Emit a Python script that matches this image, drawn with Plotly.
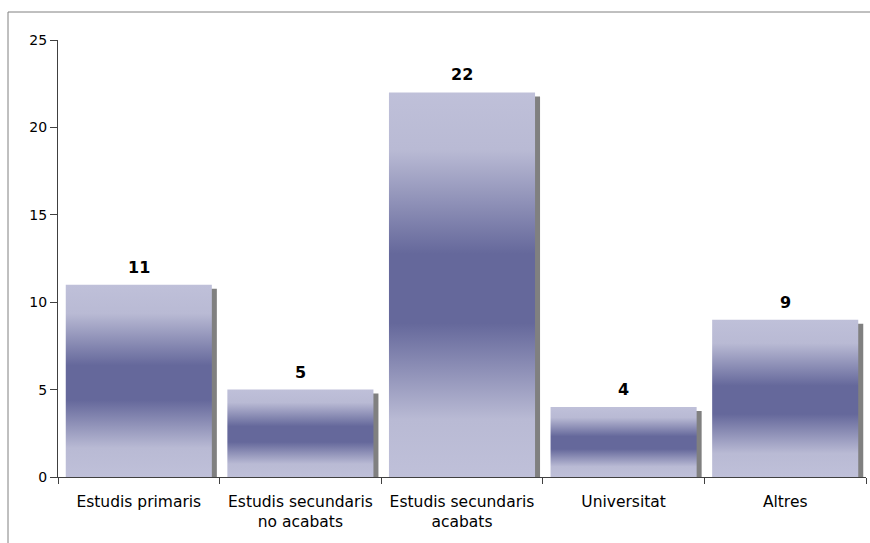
import plotly.graph_objects as go

# Nivell d'estudis
categories = ["Estudis primaris", "Estudis secundaris<br>no acabats",
              "Estudis secundaris<br>acabats", "Universitat", "Altres"]
values = [11, 5, 22, 4, 9]
y_ticks = [0, 5, 10, 15, 20, 25]

BAR_HALF = 0.452          # half bar width, in category units
SHADOW_DX = 0.031         # drop-shadow offset to the right
SHADOW_DY = 0.23          # drop-shadow offset downward (value units)

LIGHT = "#bfc0d9"
DARK = "#65689b"
gradient = [[0.0, LIGHT], [0.15, "#b9bad4"], [0.40, DARK], [0.58, DARK],
            [0.85, "#b9bad4"], [1.0, LIGHT]]

FONT = "DejaVu Sans, Verdana"

fig = go.Figure()

for i, v in enumerate(values):
    # shadow behind the bar
    x0, x1 = i - BAR_HALF + SHADOW_DX, i + BAR_HALF + SHADOW_DX
    fig.add_trace(go.Scatter(
        x=[x0, x1, x1, x0, x0], y=[0, 0, v - SHADOW_DY, v - SHADOW_DY, 0],
        mode="lines", line=dict(width=0), fill="toself",
        fillcolor="#808080", hoverinfo="skip", showlegend=False))
    # gradient bar
    x0, x1 = i - BAR_HALF, i + BAR_HALF
    fig.add_trace(go.Scatter(
        x=[x0, x1, x1, x0, x0], y=[0, 0, v, v, 0],
        mode="lines", line=dict(width=0), fill="toself",
        fillgradient=dict(type="vertical", colorscale=gradient),
        hoverinfo="skip", showlegend=False))

for i, v in enumerate(values):
    fig.add_annotation(x=i, y=v, text=f"<b>{v}</b>", showarrow=False,
                       yanchor="bottom", yshift=6,
                       font=dict(family=FONT, size=16, color="#000000"))

axis_color = "#404040"
fig.update_layout(
    width=870, height=543,
    margin=dict(l=58, r=4, t=40, b=66),
    paper_bgcolor="white", plot_bgcolor="white",
    font=dict(family=FONT, size=15.5, color="#000000"),
    xaxis=dict(
        range=[-0.5, 4.5], showgrid=False, zeroline=False,
        showline=True, linecolor=axis_color, linewidth=1,
        tickmode="array", tickvals=list(range(len(categories))),
        ticktext=categories, ticks="", ticklabelstandoff=10,
        tickfont=dict(size=15.5),
        minor=dict(tickmode="array",
                   tickvals=[k - 0.5 for k in range(len(categories) + 1)],
                   ticks="outside", ticklen=6, tickcolor=axis_color, showgrid=False),
    ),
    yaxis=dict(
        range=[0, 25], showgrid=False, zeroline=False,
        showline=True, linecolor=axis_color, linewidth=1,
        tickmode="array", tickvals=y_ticks,
        ticks="outside", ticklen=7, tickcolor=axis_color,
        tickfont=dict(size=14),
    ),
)

# outer chart frame
fig.add_shape(type="rect", xref="paper", yref="paper",
              x0=(8 - 58) / 808, x1=(880 - 58) / 808,
              y0=-0.3, y1=(477 - 12) / 437,
              line=dict(color="#808080", width=1), fillcolor="rgba(0,0,0,0)", layer="below")

fig.write_html("out.html")
